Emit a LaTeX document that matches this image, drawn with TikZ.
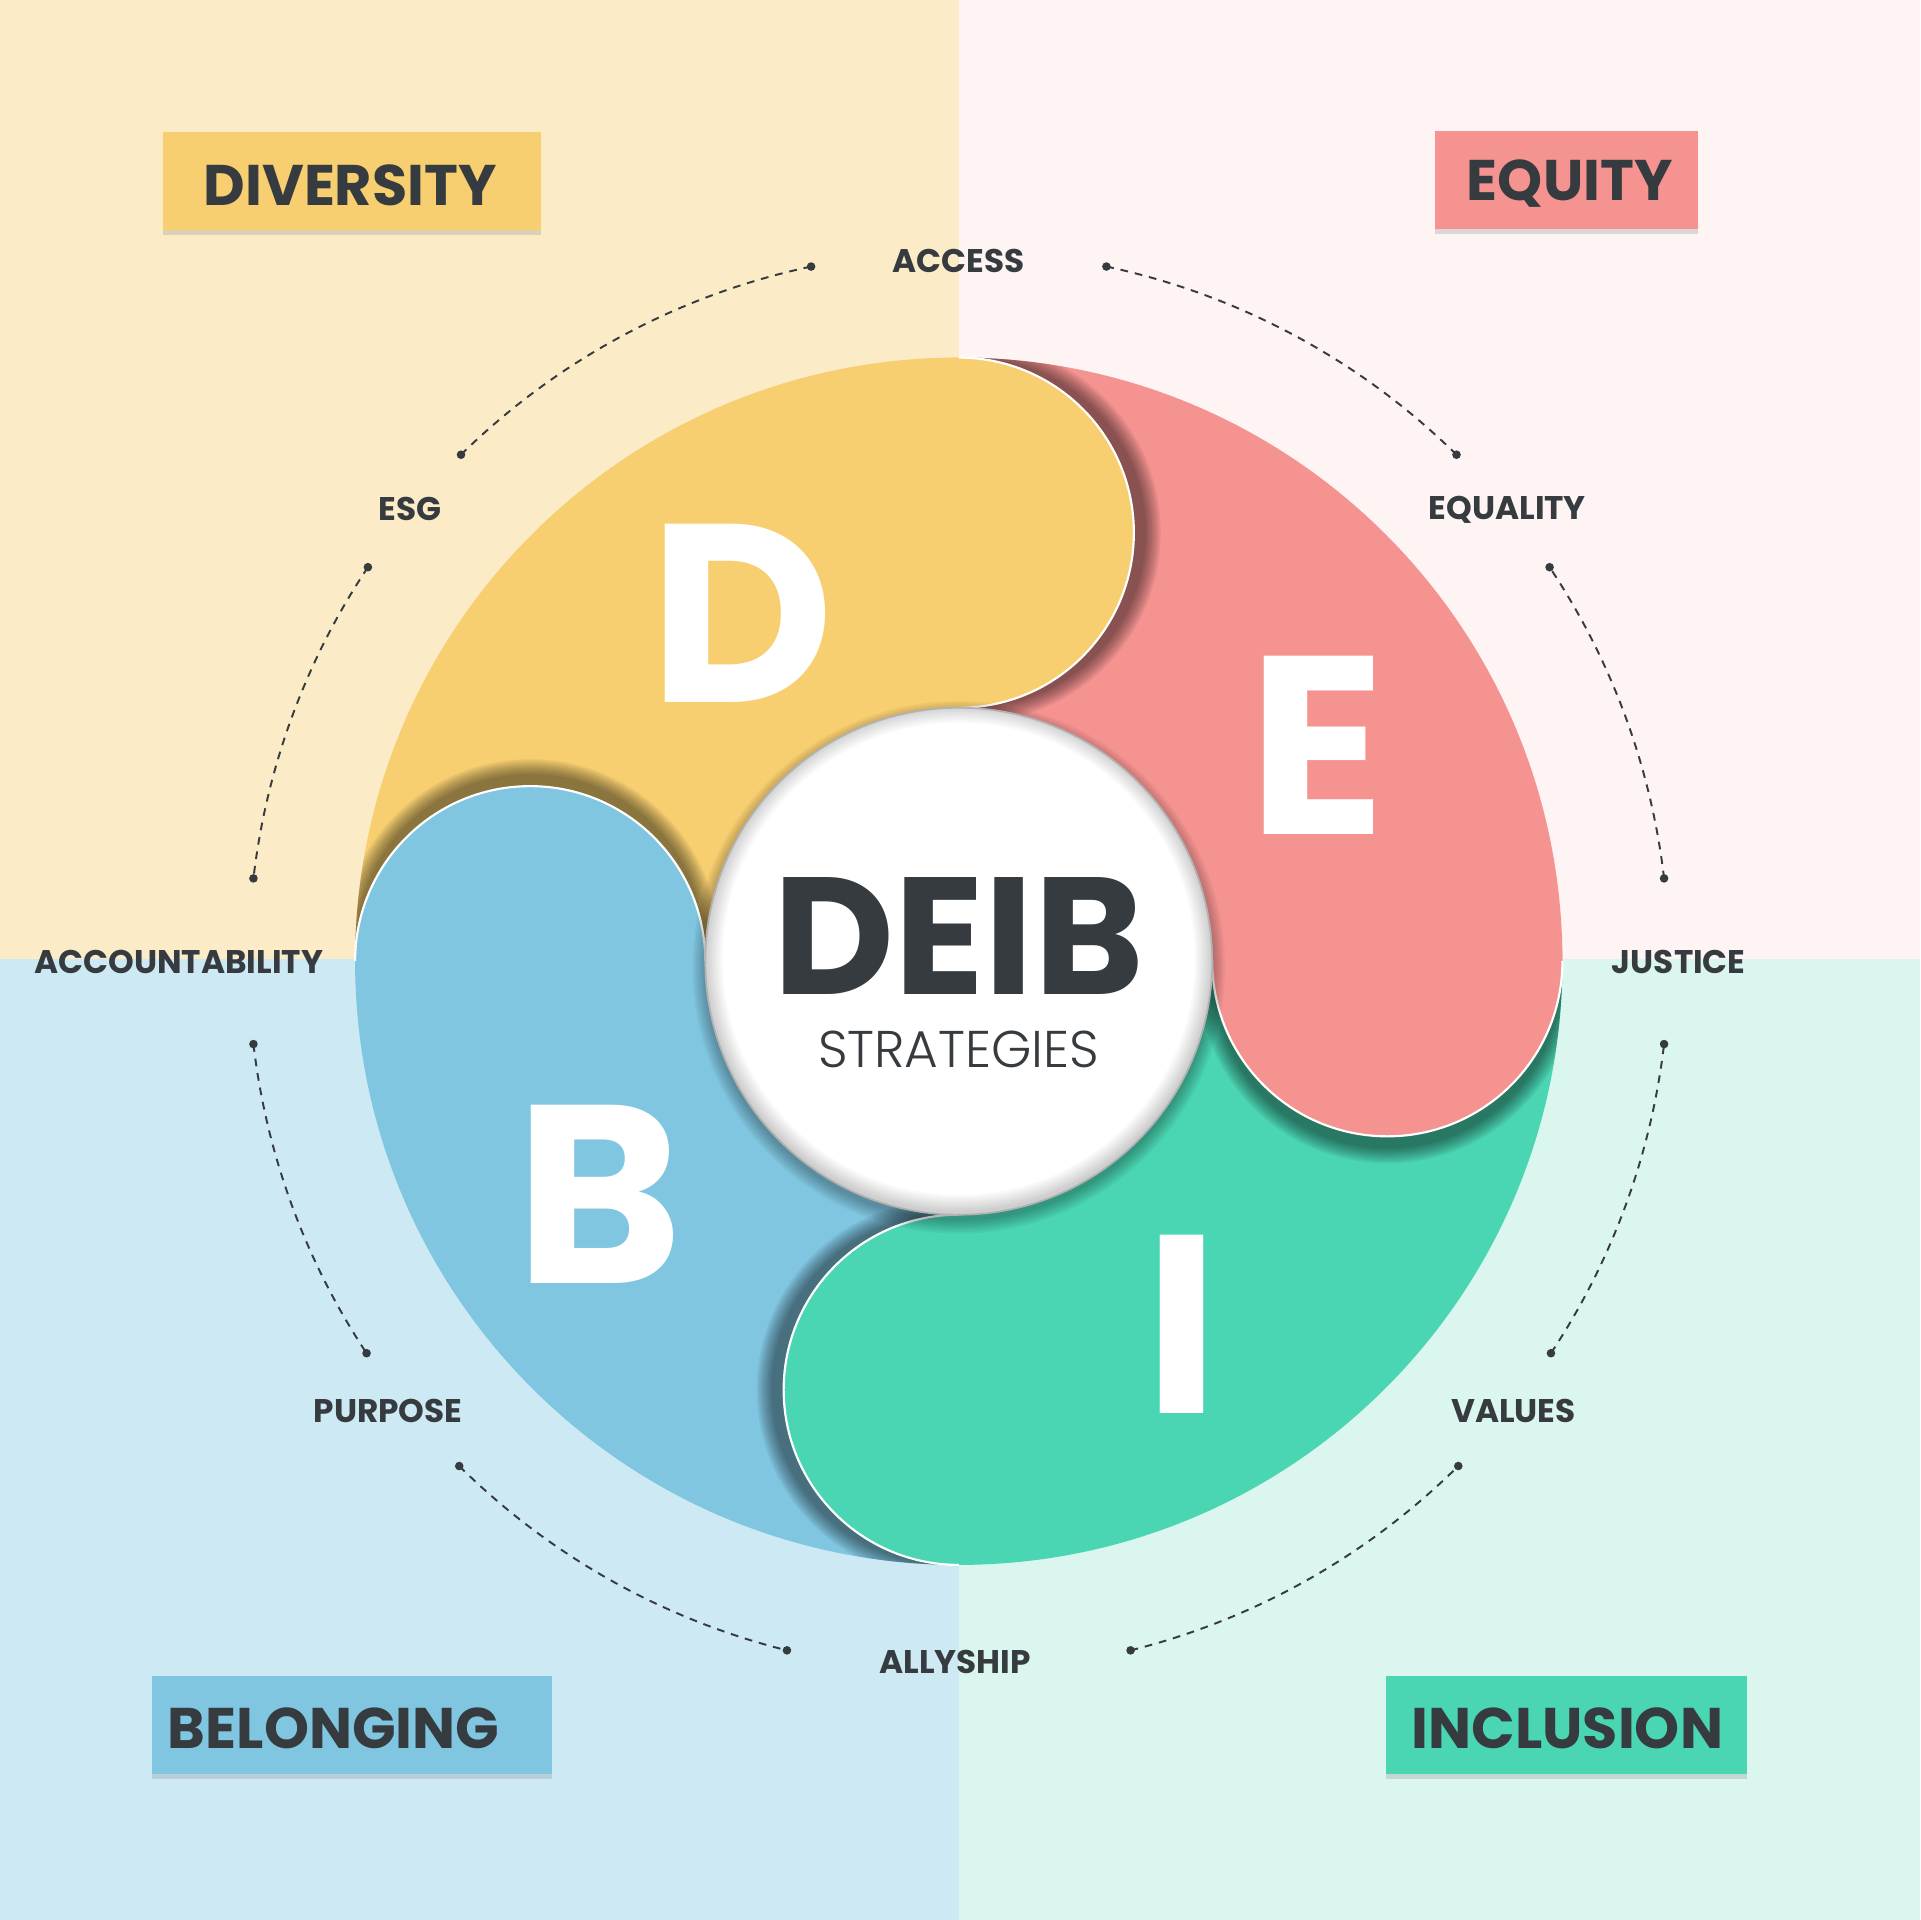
\documentclass[tikz,border=0pt]{standalone}
\usepackage{fontspec}
\setmainfont{Poppins}
\newfontfamily\poplight{Poppins Light}
\usetikzlibrary{calc,shadows}

\definecolor{bgdiv}{HTML}{FBEBC7}
\definecolor{bgequ}{HTML}{FEF4F4}
\definecolor{bgbel}{HTML}{CDE9F4}
\definecolor{bginc}{HTML}{DBF6EF}
\definecolor{dyel}{HTML}{F7CF71}
\definecolor{epink}{HTML}{F59391}
\definecolor{igreen}{HTML}{4AD6B3}
\definecolor{bblue}{HTML}{80C6E1}
\definecolor{inkgray}{HTML}{363B3F}

\tikzset{
	letter/.style={text=white, inner sep=0pt, font=\fontsize{59}{59}\selectfont\bfseries},
	titlebox/.style={fill=#1, inner sep=0pt, minimum height=0.8cm,
		drop shadow={shadow xshift=0pt, shadow yshift=-1.2pt, opacity=0.25}},
	titletext/.style={anchor=base, text=inkgray, inner sep=0pt, font=\fontsize{13.3}{14}\selectfont\bfseries},
	tag/.style={text=inkgray, inner sep=0pt, font=\fontsize{7.6}{8}\selectfont\bfseries},
	dashline/.style={inkgray, line width=0.45pt, dash pattern=on 1.8pt off 1.6pt},
	dot/.style={circle, fill=inkgray, inner sep=0pt, minimum size=2pt},
}

\begin{document}
\begin{tikzpicture}[x=0.01cm, y=0.01cm]
		%%%%% START %%%%%
		\useasboundingbox (-783,-783) rectangle (785,785);
		
		% quarters
		\fill[bgdiv] (-783,2) rectangle (0,785);
		\fill[bgequ] (0,2) rectangle (785,785);
		\fill[bgbel] (-783,-783) rectangle (0,2);
		\fill[bginc] (0,-783) rectangle (785,2);
		
		% title boxes
		\node[titlebox=dyel, minimum width=3.09cm] (diversity) at (-495.5,637.5) {};
		\node[titlebox=epink, minimum width=2.15cm] (equity) at (496.5,638) {};
		\node[titlebox=bblue, minimum width=3.27cm] (belonging) at (-495.5,-624) {};
		\node[titlebox=igreen, minimum width=2.95cm] (inclusion) at (496.5,-623.5) {};
		\node[titletext] (diversitytext) at (-497,617) {DIVERSITY};
		\node[titletext] (equitytext) at (499,621) {EQUITY};
		\node[titletext] (belongingtext) at (-510.5,-643) {BELONGING};
		\node[titletext] (inclusiontext) at (497,-643) {INCLUSION};
		
		% dashed ring
		\foreach \i/\a in {1/78, 2/102, 3/134.5, 4/146.3, 5/173.3, 6/186.7, 7/213.5, 8/225.3,
			9/256, 10/284, 11/314.7, 12/326.5, 13/353.3, 14/6.7, 15/33.7, 16/45.5}
			\coordinate (p\i) at (\a:580);
		\draw[dashline] (p2) arc[start angle=102, end angle=134.5, radius=580];
		\draw[dashline] (p4) arc[start angle=146.3, end angle=173.3, radius=580];
		\draw[dashline] (p6) arc[start angle=186.7, end angle=213.5, radius=580];
		\draw[dashline] (p8) arc[start angle=225.3, end angle=256, radius=580];
		\draw[dashline] (p10) arc[start angle=284, end angle=314.7, radius=580];
		\draw[dashline] (p12) arc[start angle=326.5, end angle=353.3, radius=580];
		\draw[dashline] (p14) arc[start angle=6.7, end angle=33.7, radius=580];
		\draw[dashline] (p16) arc[start angle=45.5, end angle=78, radius=580];
		\foreach \i in {1,...,16}
			\node[dot] (dot\i) at (p\i) {};
		
		\node[tag] (access) at (0,572) {ACCESS};
		\node[tag] (equality) at (448,369) {EQUALITY};
		\node[tag] (justice) at (588,-1) {JUSTICE};
		\node[tag] (values) at (453,-367) {VALUES};
		\node[tag] (allyship) at (-3,-572) {ALLYSHIP};
		\node[tag] (purpose) at (-466,-367) {PURPOSE};
		\node[tag] (accountability) at (-637,-1) {ACCOUNTABILITY};
		\node[tag] (esg) at (-448,369) {ESG};
		
		% wheel bodies
		\foreach \a/\col in {90/dyel, 0/epink, 270/igreen, 180/bblue}
			\fill[\col] (\a:493) arc[start angle=\a, end angle=\a+90, radius=493]
				-- (\a+90:207) arc[start angle=\a+90, end angle=\a, radius=207] -- cycle;
		
		% head shadows, only on the piece that is overlapped
		\foreach \a in {90, 0, 270, 180}{
			\begin{scope}
				\clip (0,0) -- (\a:493) arc[start angle=\a, end angle=\a-90, radius=493] -- cycle;
				\foreach \k in {0,...,7}
					\fill[black, opacity=0.065] ($(\a:350)+(\a-90:10)$) circle[radius=143+\k*1.7];
			\end{scope}
		}
		
		% heads
		\foreach \a/\col in {90/dyel, 0/epink, 270/igreen, 180/bblue}{
			\fill[\col] (\a:350) circle[radius=143];
			\draw[white, line width=0.5pt] (\a:493) arc[start angle=\a, end angle=\a-180, radius=143];
		}
		
		\node[letter] (letD) at (122:335) {D};
		\node[letter] (letE) at (31:342) {E};
		\node[letter] (letI) at (301.6:348) {I};
		\node[letter] (letB) at (213:350) {B};
		
		% centre disc
		\foreach \k in {0,...,7}
			\fill[black, opacity=0.04] (0,-5) circle[radius=207+\k*1.5];
		\fill[white] (0,0) circle[radius=207];
		\begin{scope}
			\clip (0,0) circle[radius=207];
			\foreach \k in {1,...,8}
				\draw[black, opacity=0.022, line width=\k*1pt] (0,2) circle[radius=207];
		\end{scope}
		\draw[gray!60, line width=0.4pt] (0,0) circle[radius=207];
		
		\node[anchor=base, inner sep=0pt, text=inkgray, font=\fontsize{38.7}{39}\selectfont\bfseries] (deib) at (0,-27) {DEIB};
		\node[anchor=base, inner sep=0pt, text=inkgray, font=\poplight\fontsize{12}{12}\selectfont] (strategies) at (0,-87) {STRATEGIES};
		%%%%% END %%%%%
\end{tikzpicture}
\end{document}
